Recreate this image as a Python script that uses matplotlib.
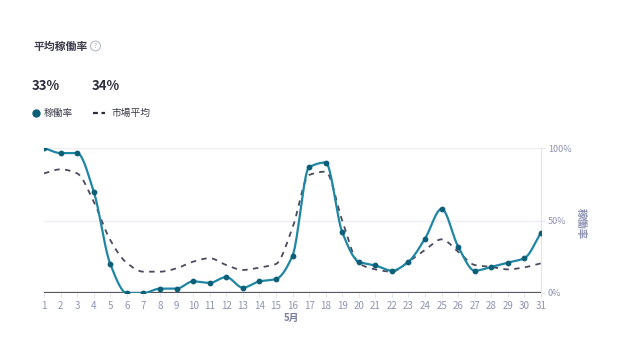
import matplotlib as mpl
mpl.use('Agg')
import matplotlib.pyplot as plt
import numpy as np

plt.rcParams['font.family'] = ['Noto Sans CJK JP', 'DejaVu Sans']

days = list(range(1, 32))
occupancy = [100, 96.5, 96.5, 70, 20, 0, 0, 3, 3, 8, 7, 11, 3.7, 8, 9.6,
             25.7, 86.7, 90, 42, 21.6, 19, 15.4, 21.6, 37.5, 58, 32, 15.4,
             18, 21, 24, 41.6]
market_avg = [82.5, 85.3, 82.5, 63, 36.5, 20.7, 14.7, 14.7, 17, 21.6, 24,
              19.3, 15.9, 17.5, 20, 45, 81.4, 83.7, 50, 20.5, 16.3, 14.7,
              21.6, 29.7, 37, 28.5, 19.3, 18, 16.3, 17.7, 20.5]
y_ticks = [0, 50, 100]
y_ticklabels = ['0%', '50%', '100%']
summary = ['33%', '34%']

TEAL = '#1f86a3'
DOT = '#0d5f78'
DASH = '#4a4b5e'
TICK = '#8e93b3'


def smooth(x, y, n=20):
    # monotone cubic (Fritsch-Carlson) for drawing the curve only
    x = np.asarray(x, float)
    y = np.asarray(y, float)
    h = np.diff(x)
    d = np.diff(y) / h
    m = np.zeros_like(y)
    m[0], m[-1] = d[0], d[-1]
    for i in range(1, len(y) - 1):
        if d[i - 1] * d[i] <= 0:
            m[i] = 0
        else:
            m[i] = 2 / (1 / d[i - 1] + 1 / d[i])
    xs, ys = [], []
    for i in range(len(x) - 1):
        t = np.linspace(0, 1, n, endpoint=False)
        h00 = 2 * t**3 - 3 * t**2 + 1
        h10 = t**3 - 2 * t**2 + t
        h01 = -2 * t**3 + 3 * t**2
        h11 = t**3 - t**2
        xs.append(x[i] + t * h[i])
        ys.append(h00 * y[i] + h10 * h[i] * m[i] + h01 * y[i + 1] + h11 * h[i] * m[i + 1])
    xs.append([x[-1]])
    ys.append([y[-1]])
    return np.concatenate(xs), np.concatenate(ys)


fig = plt.figure(figsize=(6.21, 3.53), dpi=100)
ax = fig.add_axes([44 / 621, 1 - 293 / 353, (541 - 44) / 621, (293 - 148) / 353])

for v in [50, 100]:
    ax.axhline(v, color='#ecedf5', linewidth=1, zorder=0)
ax.axhline(0, color='#55565f', linewidth=1.6, zorder=3)

mx, my = smooth(days, market_avg)
ax.plot(mx, my, color=DASH, linestyle=(0, (3, 3)), linewidth=1.3, zorder=2)
ox, oy = smooth(days, occupancy)
ax.plot(ox, oy, color=TEAL, linewidth=1.6, zorder=4)
ax.scatter(days, occupancy, s=10, color=DOT, zorder=5)

ax.set_xlim(1, 31)
ax.set_ylim(0, 100)
ax.set_xticks(days)
ax.set_xticklabels([str(d) for d in days])
ax.tick_params(axis='x', length=3, color='#e3e4ee', labelsize=7, labelcolor=TICK, pad=3)
ax.yaxis.tick_right()
ax.set_yticks(y_ticks)
ax.set_yticklabels(y_ticklabels)
ax.tick_params(axis='y', length=3, color='#e3e4ee', labelsize=6.5, labelcolor=TICK, pad=2)
for s in ['top', 'left', 'bottom']:
    ax.spines[s].set_visible(False)
ax.spines['right'].set_color('#e3e4ee')

fig.text(581 / 621, 1 - 224 / 353, '稼働率', rotation=270, fontsize=7.5,
         color=TICK, ha='center', va='center', fontweight='bold')
fig.text(292 / 621, 1 - 318 / 353, '5月', fontsize=7, color='#7a7f9c',
         ha='center', va='center', fontweight='bold')

fig.text(33 / 621, 1 - 47 / 353, '平均稼働率', fontsize=7.8, color='#3a3b4a',
         ha='left', va='center', fontweight='bold')
fig.text(95.5 / 621, 1 - 46 / 353, '?', fontsize=4.5, color='#a0a3b8', ha='center', va='center',
         bbox=dict(boxstyle='circle,pad=0.15', fc='white', ec='#b0b3c6', lw=0.7))
fig.text(32 / 621, 1 - 86 / 353, summary[0], fontsize=9.5, color='#2e2f3e',
         ha='left', va='center', fontweight='bold')
fig.text(92 / 621, 1 - 86 / 353, summary[1], fontsize=9.5, color='#2e2f3e',
         ha='left', va='center', fontweight='bold')

fig.add_artist(mpl.lines.Line2D([36 / 621], [1 - 113 / 353], marker='o',
               markersize=5, color=DOT, linestyle='none'))
fig.text(44 / 621, 1 - 113 / 353, '稼働率', fontsize=7, color='#3a3b4a',
         ha='left', va='center')
fig.add_artist(mpl.lines.Line2D([93 / 621, 105 / 621], [1 - 113 / 353] * 2,
               color='#2e2f3e', linestyle=(0, (2.2, 1.6)), linewidth=1.6))
fig.text(111 / 621, 1 - 113 / 353, '市場平均', fontsize=7, color='#3a3b4a',
         ha='left', va='center')

fig.savefig('out.png', dpi=100, facecolor='white')
